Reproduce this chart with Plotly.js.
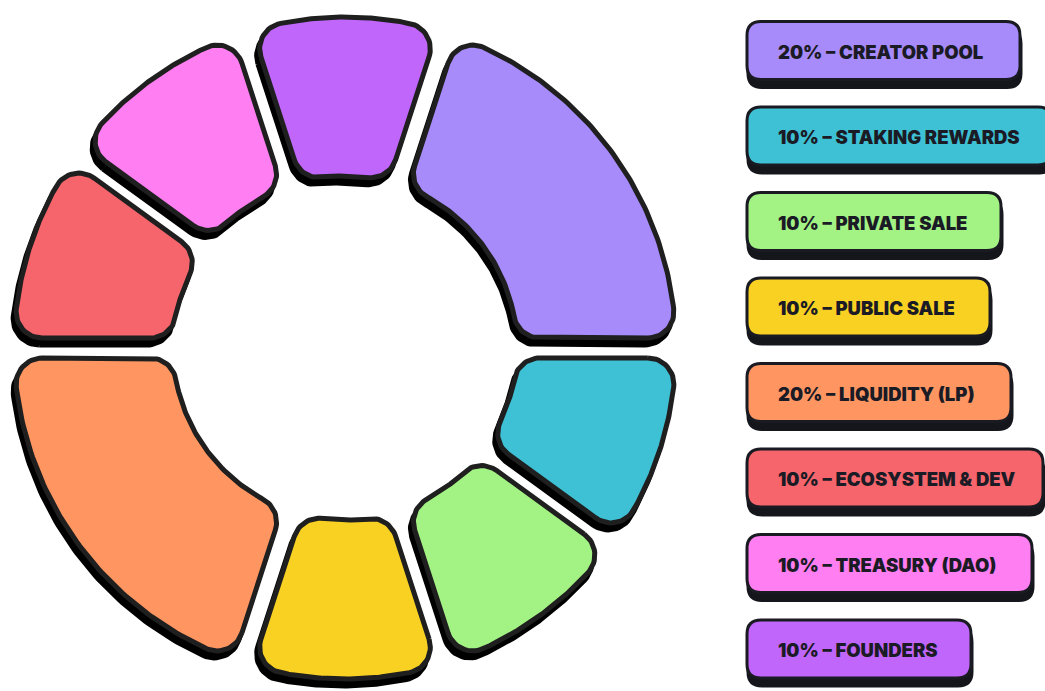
<!DOCTYPE html>
<html>
<head>
<meta charset="utf-8">
<script src="https://cdn.plot.ly/plotly-3.0.1.min.js"></script>
<style>
  html, body { margin: 0; padding: 0; background: #ffffff; }
  #chart { width: 1045px; height: 691px; }
</style>
</head>
<body>
<div id="chart"></div>
<script>
// ---- data ----
const labels = ['CREATOR POOL', 'STAKING REWARDS', 'PRIVATE SALE', 'PUBLIC SALE',
                'LIQUIDITY (LP)', 'ECOSYSTEM & DEV', 'TREASURY (DAO)', 'FOUNDERS'];
const shares = [20, 10, 10, 10, 20, 10, 10, 10];
const colors = ['#a78bfa', '#3ec1d4', '#a3f284', '#f8d123', '#ff9661', '#f5656b', '#ff7ef1', '#c166fb'];

// ---- layout parameters ----
const W = 1045, H = 691;
const cx = 345, cy = 348;
const Ro = 331, Ri = 172;
const gap = 20, rc = 26;
const startDeg = 18;
const shadowDx = -3, shadowDy = 7;
const outline = '#1f1f1f';

// legend box geometry (layout)
const boxLeft = 747, boxTop0 = 21.5, boxPitch = 85.5, boxH = 58, boxR = 14;
const boxRight = [1020, 1052, 1001, 990, 1011, 1043, 1032, 971];

// ---- geometry helpers ----
const d = gap / 2 + rc;
const unit = p => { const l = Math.hypot(p[0], p[1]); return [p[0] / l, p[1] / l]; };
const neg = p => [-p[0], -p[1]];
const tang = th => [Math.cos(th), Math.sin(th)];
const rad = th => [Math.sin(th), -Math.cos(th)];
const polar = p => Math.atan2(p[0], -p[1]);
function sideP(th, R, sgn) {
  const t = Math.sqrt(R * R - d * d), u = rad(th), tn = tang(th);
  return [t * u[0] + sgn * d * tn[0], t * u[1] + sgn * d * tn[1]];
}
function norm(a) { while (a > Math.PI) a -= 2 * Math.PI; while (a <= -Math.PI) a += 2 * Math.PI; return a; }
function arcAround(out, c, r, v1, v2, n) {
  const a1 = Math.atan2(v1[1], v1[0]);
  const da = norm(Math.atan2(v2[1], v2[0]) - a1);
  for (let i = 0; i <= n; i++) {
    const a = a1 + da * i / n;
    out.push([c[0] + r * Math.cos(a), c[1] + r * Math.sin(a)]);
  }
}
function centerArc(out, R, t1, t2, n) {
  const dt = norm(t2 - t1);
  for (let i = 0; i <= n; i++) {
    const t = t1 + dt * i / n;
    out.push([R * Math.sin(t), -R * Math.cos(t)]);
  }
}
function segment(th0, th1) {
  const A = sideP(th0, Ro - rc, 1), D = sideP(th0, Ri + rc, 1);
  const B = sideP(th1, Ro - rc, -1), C = sideP(th1, Ri + rc, -1);
  const pts = [];
  arcAround(pts, A, rc, neg(tang(th0)), unit(A), 16);
  centerArc(pts, Ro, polar(A), polar(B), 80);
  arcAround(pts, B, rc, unit(B), tang(th1), 16);
  arcAround(pts, C, rc, tang(th1), neg(unit(C)), 16);
  centerArc(pts, Ri, polar(C), polar(D), 60);
  arcAround(pts, D, rc, neg(unit(D)), neg(tang(th0)), 16);
  pts.push(pts[0]);
  return pts;
}

// ---- build traces ----
const total = shares.reduce((a, b) => a + b, 0);
const shadowTraces = [], segTraces = [];
let acc = 0;
shares.forEach((s, i) => {
  const th0 = (startDeg + 360 * acc / total) * Math.PI / 180;
  acc += s;
  const th1 = (startDeg + 360 * acc / total) * Math.PI / 180;
  const pts = segment(th0, th1);
  shadowTraces.push({
    type: 'scatter', mode: 'lines',
    x: pts.map(p => cx + p[0] + shadowDx), y: pts.map(p => cy + p[1] + shadowDy),
    fill: 'toself', fillcolor: '#000000',
    line: { color: '#000000', width: 5 },
    hoverinfo: 'skip', showlegend: false
  });
  segTraces.push({
    type: 'scatter', mode: 'lines', name: labels[i],
    x: pts.map(p => cx + p[0]), y: pts.map(p => cy + p[1]),
    fill: 'toself', fillcolor: colors[i],
    line: { color: outline, width: 5 },
    hoverinfo: 'name', showlegend: false
  });
});

// ---- legend boxes ----
function roundRect(x0, y0, x1, y1, r) {
  return `M ${x0 + r} ${y0} L ${x1 - r} ${y0} Q ${x1} ${y0} ${x1} ${y0 + r} ` +
         `L ${x1} ${y1 - r} Q ${x1} ${y1} ${x1 - r} ${y1} L ${x0 + r} ${y1} ` +
         `Q ${x0} ${y1} ${x0} ${y1 - r} L ${x0} ${y0 + r} Q ${x0} ${y0} ${x0 + r} ${y0} Z`;
}
const shapes = [], annotations = [];
labels.forEach((lab, i) => {
  const y0 = boxTop0 + boxPitch * i, y1 = y0 + boxH;
  shapes.push({
    type: 'path', xref: 'x', yref: 'y',
    path: roundRect(boxLeft + 1, y0 + 8, boxRight[i] + 1, y1 + 8, boxR),
    fillcolor: '#15161c', line: { color: '#15161c', width: 3 }
  });
  shapes.push({
    type: 'path', xref: 'x', yref: 'y',
    path: roundRect(boxLeft, y0, boxRight[i], y1, boxR),
    fillcolor: colors[i], line: { color: '#1a1a22', width: 3 }
  });
  annotations.push({
    xref: 'x', yref: 'y', x: 776, y: (y0 + y1) / 2 + 1,
    xanchor: 'left', yanchor: 'middle', showarrow: false,
    text: `${shares[i]}% – ${lab}`,
    font: { family: 'Inter, Roboto, sans-serif', size: 18.5, weight: 900, color: '#1b1b26' }
  });
});

const layout = {
  width: W, height: H,
  margin: { l: 0, r: 0, t: 0, b: 0 },
  paper_bgcolor: '#ffffff', plot_bgcolor: '#ffffff',
  xaxis: { range: [0, W], visible: false, fixedrange: true },
  yaxis: { range: [H, 0], visible: false, fixedrange: true },
  shapes, annotations, showlegend: false, hovermode: 'closest'
};

Plotly.newPlot('chart', shadowTraces.concat(segTraces), layout, { displayModeBar: false, staticPlot: false });
</script>
</body>
</html>
